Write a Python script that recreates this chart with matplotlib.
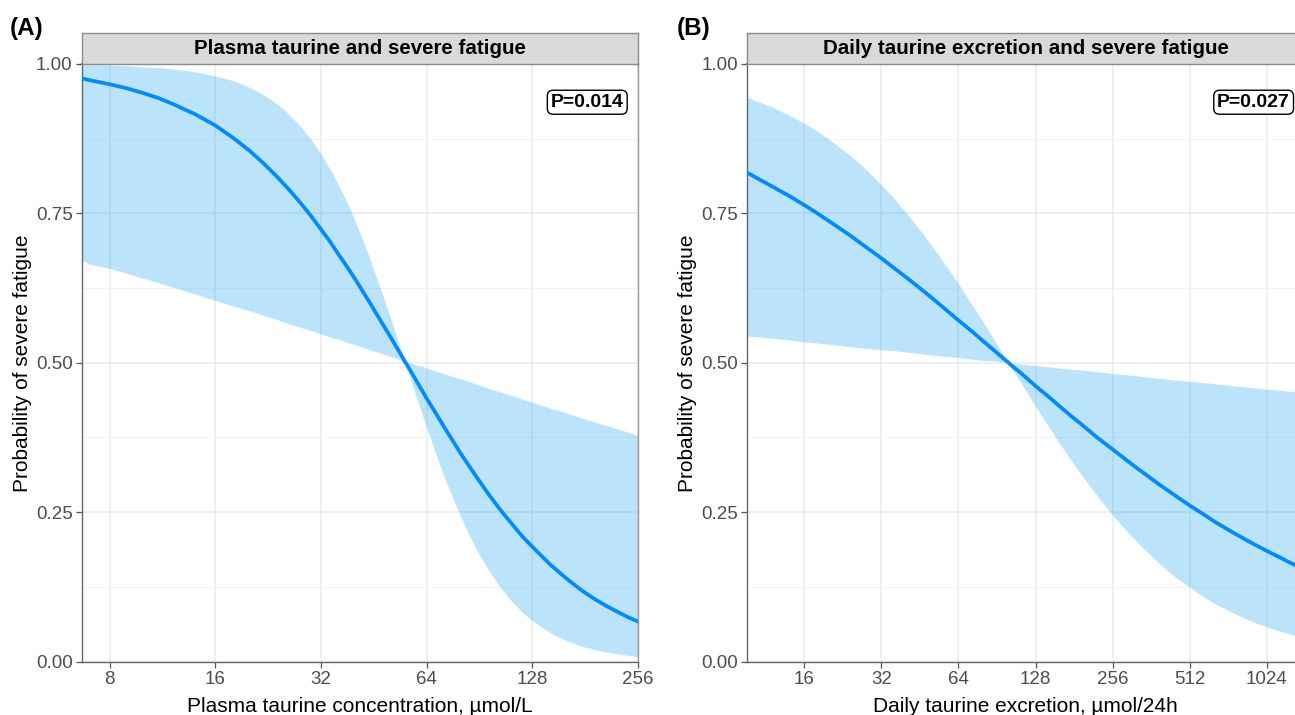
import matplotlib
matplotlib.use("Agg")
import matplotlib.pyplot as plt
from matplotlib.ticker import FixedLocator, FixedFormatter, NullLocator

plt.rcParams['font.family'] = ['Liberation Sans', 'DejaVu Sans']

# panel A: plasma taurine (umol/L) vs probability of severe fatigue
plasma_x = [6.65, 7, 8, 9, 10, 11, 12, 14, 16, 18, 20, 22, 24, 26, 28, 30, 32, 34, 36, 38,
            40, 42, 44, 46, 48, 50, 52, 54, 55.3, 56, 58, 60, 62, 64, 68, 72, 76, 80, 88, 96,
            104, 112, 120, 128, 144, 160, 176, 192, 208, 224, 240, 256]
plasma_fit = [0.976, 0.973, 0.966, 0.959, 0.951, 0.943, 0.934, 0.916, 0.897, 0.876,
              0.855, 0.833, 0.811, 0.789, 0.767, 0.745, 0.723, 0.702, 0.680, 0.660,
              0.640, 0.620, 0.601, 0.582, 0.564, 0.547, 0.530, 0.514, 0.503, 0.498,
              0.483, 0.468, 0.454, 0.440, 0.415, 0.391, 0.369, 0.348, 0.312, 0.280,
              0.253, 0.230, 0.209, 0.192, 0.162, 0.139, 0.120, 0.105, 0.093, 0.083,
              0.074, 0.067]
plasma_lo = [0.672, 0.665, 0.658, 0.649, 0.641, 0.634, 0.627, 0.615, 0.604, 0.595,
             0.587, 0.579, 0.572, 0.565, 0.559, 0.554, 0.548, 0.543, 0.539, 0.534,
             0.530, 0.526, 0.522, 0.518, 0.515, 0.511, 0.508, 0.505, 0.503, 0.494,
             0.466, 0.440, 0.415, 0.391, 0.347, 0.307, 0.273, 0.242, 0.191, 0.153,
             0.123, 0.100, 0.082, 0.068, 0.048, 0.035, 0.026, 0.020, 0.016, 0.013,
             0.010, 0.008]
plasma_hi = [0.999, 0.9985, 0.998, 0.997, 0.995, 0.994, 0.992, 0.987, 0.980, 0.972,
             0.961, 0.948, 0.933, 0.915, 0.895, 0.873, 0.849, 0.823, 0.795, 0.767,
             0.737, 0.706, 0.675, 0.643, 0.612, 0.582, 0.552, 0.522, 0.503, 0.502,
             0.499, 0.496, 0.494, 0.491, 0.486, 0.481, 0.477, 0.473, 0.465, 0.457,
             0.451, 0.445, 0.439, 0.434, 0.424, 0.416, 0.408, 0.401, 0.395, 0.389,
             0.384, 0.378]
plasma_ticks = [8, 16, 32, 64, 128, 256]

# panel B: daily taurine excretion (umol/24h)
urine_x = [9.59, 12, 14, 16, 18, 20, 24, 28, 32, 36, 40, 44, 48, 56, 64, 72, 80, 88, 96,
           100.4, 104, 112, 128, 144, 160, 176, 192, 224, 256, 288, 320, 384, 448, 512,
           576, 640, 768, 896, 1024, 1152, 1280, 1424]
urine_fit = [0.818, 0.795, 0.779, 0.764, 0.750, 0.737, 0.714, 0.693, 0.675, 0.658,
             0.643, 0.629, 0.616, 0.592, 0.571, 0.553, 0.536, 0.521, 0.507, 0.500,
             0.494, 0.483, 0.461, 0.443, 0.426, 0.411, 0.398, 0.374, 0.355, 0.338,
             0.323, 0.298, 0.278, 0.261, 0.247, 0.234, 0.214, 0.198, 0.185, 0.174,
             0.164, 0.155]
urine_lo = [0.545, 0.541, 0.538, 0.535, 0.533, 0.531, 0.527, 0.524, 0.522, 0.520,
            0.518, 0.516, 0.514, 0.511, 0.509, 0.506, 0.504, 0.503, 0.501, 0.500,
            0.489, 0.467, 0.427, 0.393, 0.363, 0.337, 0.314, 0.276, 0.245, 0.220,
            0.199, 0.166, 0.142, 0.124, 0.109, 0.097, 0.080, 0.067, 0.058, 0.051,
            0.045, 0.040]
urine_hi = [0.944, 0.928, 0.914, 0.901, 0.888, 0.874, 0.848, 0.823, 0.798, 0.774,
            0.751, 0.729, 0.708, 0.668, 0.632, 0.598, 0.568, 0.539, 0.513, 0.500,
            0.499, 0.498, 0.495, 0.493, 0.491, 0.489, 0.488, 0.485, 0.482, 0.480,
            0.478, 0.474, 0.471, 0.469, 0.467, 0.465, 0.461, 0.458, 0.456, 0.454,
            0.452, 0.449]
urine_ticks = [16, 32, 64, 128, 256, 512, 1024]

y_ticks = [0, 0.25, 0.5, 0.75, 1.0]
y_labels = ["0.00", "0.25", "0.50", "0.75", "1.00"]

fig = plt.figure(figsize=(12.95, 7.15), dpi=100)

W, H = 1295.0, 715.0
pw = 556.3
panels = [
    dict(left=81.7, x=plasma_x, fit=plasma_fit, lo=plasma_lo, hi=plasma_hi,
         ticks=plasma_ticks, xlim=(6.65, 256), tag="(A)", tagx=27, pright=626.7,
         title="Plasma taurine and severe fatigue", p="P=0.014",
         xlabel="Plasma taurine concentration, µmol/L"),
    dict(left=747.3, x=urine_x, fit=urine_fit, lo=urine_lo, hi=urine_hi,
         ticks=urine_ticks, xlim=(9.59, 1424), tag="(B)", tagx=694, pright=1293,
         title="Daily taurine excretion and severe fatigue", p="P=0.027",
         xlabel="Daily taurine excretion, µmol/24h"),
]

ptop, pbot = 64.0, 661.5
for pn in panels:
    ax = fig.add_axes([pn['left'] / W, (H - pbot) / H, pw / W, (pbot - ptop) / H])
    ax.set_xscale('log', base=2)
    ax.fill_between(pn['x'], pn['lo'], pn['hi'], color='#1EA8F5', alpha=0.3,
                    linewidth=0, zorder=2)
    ax.plot(pn['x'], pn['fit'], color='#008CFF', lw=2.7, zorder=3)
    ax.set_xlim(*pn['xlim'])
    ax.set_ylim(0, 1)
    ax.xaxis.set_major_locator(FixedLocator(pn['ticks']))
    ax.xaxis.set_major_formatter(FixedFormatter([str(t) for t in pn['ticks']]))
    ax.xaxis.set_minor_locator(NullLocator())
    ax.set_yticks(y_ticks)
    ax.set_yticklabels(y_labels)
    ax.set_yticks([0.125, 0.375, 0.625, 0.875], minor=True)
    ax.grid(True, which='major', color='#EBEBEB', lw=1.1, zorder=0)
    ax.grid(True, which='minor', axis='y', color='#F2F2F2', lw=0.7, zorder=0)
    ax.set_axisbelow(True)
    ax.tick_params(which='major', length=4, width=0.9, color='#555555',
                   labelsize=13.5, labelcolor='#4D4D4D', pad=2.5)
    ax.tick_params(which='minor', length=0)
    for s in ['left', 'bottom']:
        ax.spines[s].set_color('#666666')
        ax.spines[s].set_linewidth(1.0)
    ax.spines['right'].set_color('#999999')
    ax.spines['right'].set_linewidth(1.0)
    ax.spines['top'].set_color('#555555')
    ax.spines['top'].set_linewidth(1.4)
    ax.set_xlabel(pn['xlabel'], fontsize=15, labelpad=6.5)
    ax.set_ylabel("Probability of severe fatigue", fontsize=15, labelpad=3)
    ax.text((pn['pright'] - pn['left'] - 3) / pw, 0.936, pn['p'],
            transform=ax.transAxes, ha='right', va='center', fontsize=14,
            fontweight='bold', zorder=5,
            bbox=dict(boxstyle='round,pad=0.18,rounding_size=0.3', fc='white',
                      ec='black', lw=1.0))

    # facet strip
    sax = fig.add_axes([pn['left'] / W, (H - ptop) / H, pw / W, 31.5 / H])
    sax.set_facecolor('#D9D9D9')
    sax.set_xticks([])
    sax.set_yticks([])
    for s in sax.spines.values():
        s.set_color('#8C8C8C')
        s.set_linewidth(1.0)
    sax.text(0.5, 0.5, pn['title'], ha='center', va='center', fontsize=14.8,
             fontweight='bold', transform=sax.transAxes)

    fig.text(pn['tagx'] / W, (H - 28) / H, pn['tag'], ha='center', va='center',
             fontsize=17.5, fontweight='bold')

fig.savefig("out.png", dpi=100)
